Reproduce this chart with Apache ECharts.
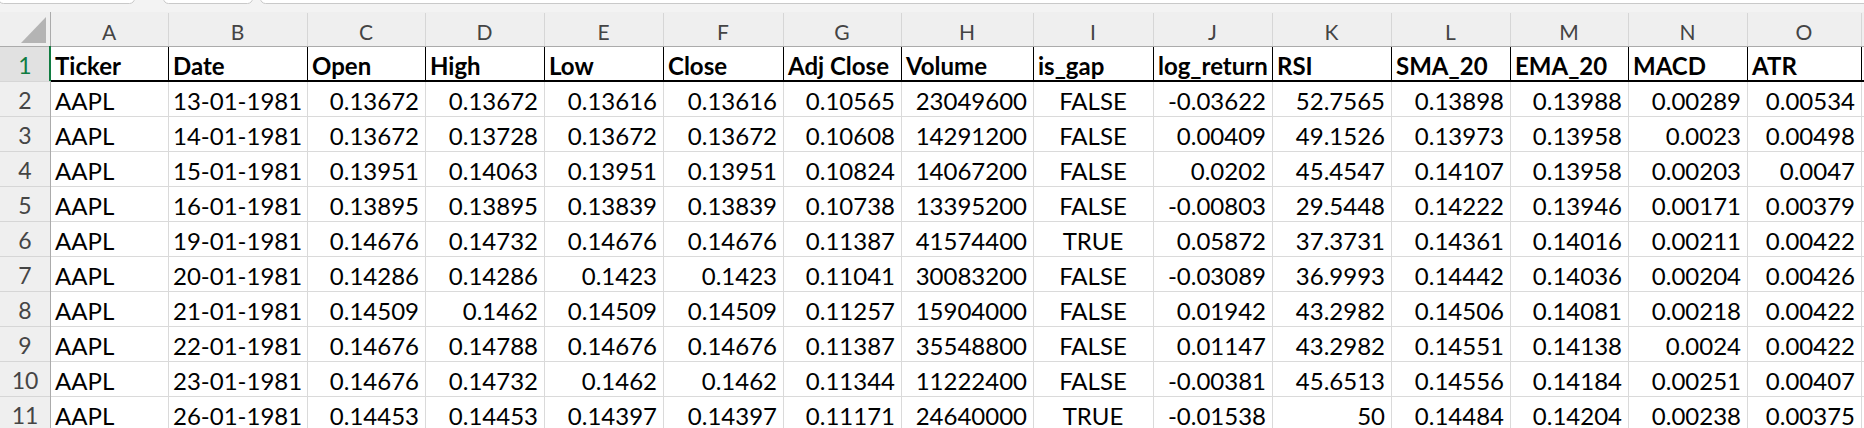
<!DOCTYPE html>
<html><head><meta charset="utf-8">
<script src="https://cdn.jsdelivr.net/npm/echarts@6/dist/echarts.min.js"></script>
<style>html,body{margin:0;padding:0;background:#fff;overflow:hidden}#c{width:1864px;height:428px}</style>
</head><body><div id="c"></div>
<script>
// ---------- data ----------
const columnLetters = ['A','B','C','D','E','F','G','H','I','J','K','L','M','N','O'];
const headers = ['Ticker','Date','Open','High','Low','Close','Adj Close','Volume','is_gap','log_return','RSI','SMA_20','EMA_20','MACD','ATR'];
const rowNumbers = [1,2,3,4,5,6,7,8,9,10,11];
const ticker = ['AAPL','AAPL','AAPL','AAPL','AAPL','AAPL','AAPL','AAPL','AAPL','AAPL'];
const date = ['13-01-1981','14-01-1981','15-01-1981','16-01-1981','19-01-1981','20-01-1981','21-01-1981','22-01-1981','23-01-1981','26-01-1981'];
const open = [0.13672,0.13672,0.13951,0.13895,0.14676,0.14286,0.14509,0.14676,0.14676,0.14453];
const high = [0.13672,0.13728,0.14063,0.13895,0.14732,0.14286,0.1462,0.14788,0.14732,0.14453];
const low = [0.13616,0.13672,0.13951,0.13839,0.14676,0.1423,0.14509,0.14676,0.1462,0.14397];
const close = [0.13616,0.13672,0.13951,0.13839,0.14676,0.1423,0.14509,0.14676,0.1462,0.14397];
const adjClose = [0.10565,0.10608,0.10824,0.10738,0.11387,0.11041,0.11257,0.11387,0.11344,0.11171];
const volume = [23049600,14291200,14067200,13395200,41574400,30083200,15904000,35548800,11222400,24640000];
const isGap = [false,false,false,false,true,false,false,false,false,true];
const logReturn = [-0.03622,0.00409,0.0202,-0.00803,0.05872,-0.03089,0.01942,0.01147,-0.00381,-0.01538];
const rsi = [52.7565,49.1526,45.4547,29.5448,37.3731,36.9993,43.2982,43.2982,45.6513,50];
const sma20 = [0.13898,0.13973,0.14107,0.14222,0.14361,0.14442,0.14506,0.14551,0.14556,0.14484];
const ema20 = [0.13988,0.13958,0.13958,0.13946,0.14016,0.14036,0.14081,0.14138,0.14184,0.14204];
const macd = [0.00289,0.0023,0.00203,0.00171,0.00211,0.00204,0.00218,0.0024,0.00251,0.00238];
const atr = [0.00534,0.00498,0.0047,0.00379,0.00422,0.00426,0.00422,0.00422,0.00407,0.00375];

// ---------- layout ----------
const W = 1864, H = 428;
const colEdges = [50,168,307,425,544,663,783,901,1033,1153,1272,1391,1510,1628,1747,1861];
const colAlign = ['left','left','right','right','right','right','right','right','center','right','right','right','right','right','right'];
const bandTop = 12, sheetTop = 46, rowH = 35, rowHeadW = 50;
const FONT = 'Lato';

const columns = [ticker,date,open,high,low,close,adjClose,volume,isGap,logReturn,rsi,sma20,ema20,macd,atr];
function fmt(v){ if (typeof v === 'boolean') return v ? 'TRUE' : 'FALSE'; return String(v); }
function cellText(r, c){ return r === 0 ? headers[c] : fmt(columns[c][r-1]); }

const cellData = [];
for (let r = 0; r < rowNumbers.length; r++) for (let c = 0; c < headers.length; c++) cellData.push([c, r]);

function P(api, x, y){ return api.coord([x, y]); }
function hline(api, x0, x1, y, color, w){ const a=P(api,x0,y), b=P(api,x1,y); const o=(w||1)%2?0.5:0; return {type:'line', shape:{x1:a[0],y1:Math.round(a[1])+o,x2:b[0],y2:Math.round(b[1])+o}, style:{stroke:color,lineWidth:w||1}}; }
function vline(api, x, y0, y1, color, w){ const a=P(api,x,y0), b=P(api,x,y1); const o=(w||1)%2?0.5:0; return {type:'line', shape:{x1:Math.round(a[0])+o,y1:a[1],x2:Math.round(b[0])+o,y2:b[1]}, style:{stroke:color,lineWidth:w||1}}; }

function renderChrome(params, api){
  const ch = [];
  const t = P(api,0,0), e = P(api,W,bandTop);
  ch.push({type:'rect', shape:{x:t[0],y:t[1],width:e[0]-t[0],height:e[1]-t[1]}, style:{fill:'#f3f3f3'}});
  [[-2,134],[163,252],[260,W+10]].forEach(([a,b])=>{
    const p=P(api,a,-12), q=P(api,b,3.5);
    ch.push({type:'rect', shape:{x:p[0]+0.5,y:p[1],width:q[0]-p[0],height:q[1]-p[1],r:5}, style:{fill:'#ffffff',stroke:'#c9c9c9',lineWidth:1}});
  });
  const b0 = P(api,0,bandTop), b1 = P(api,W,sheetTop);
  ch.push({type:'rect', shape:{x:b0[0],y:b0[1],width:b1[0]-b0[0],height:b1[1]-b0[1]}, style:{fill:'#efefef'}});
  const r0 = P(api,0,sheetTop), r1 = P(api,rowHeadW,H);
  ch.push({type:'rect', shape:{x:r0[0],y:r0[1],width:r1[0]-r0[0],height:r1[1]-r0[1]}, style:{fill:'#efefef'}});
  const s0 = P(api,0,sheetTop), s1 = P(api,rowHeadW,sheetTop+rowH);
  ch.push({type:'rect', shape:{x:s0[0],y:s0[1],width:s1[0]-s0[0],height:s1[1]-s0[1]}, style:{fill:'#e1e1e1'}});
  const a = P(api,21,43), b = P(api,46,43), c = P(api,46,17);
  ch.push({type:'polygon', shape:{points:[a,b,c]}, style:{fill:'#b4b4b4'}});
  return {type:'group', children:ch};
}

function renderCell(params, api){
  const c = api.value(0), r = api.value(1);
  const y0 = sheetTop + r*rowH;
  const p0 = P(api, colEdges[c], y0), p1 = P(api, colEdges[c+1], y0+rowH);
  const align = r === 0 ? 'left' : colAlign[c];
  const tx = align === 'left' ? p0[0]+5 : align === 'right' ? p1[0]-6 : (p0[0]+p1[0])/2;
  return {type:'group', children:[
    {type:'rect', shape:{x:p0[0]+1, y:p0[1]+1, width:p1[0]-p0[0]-1, height:p1[1]-p0[1]-1}, style:{fill:'#ffffff'}},
    {type:'text', x:tx, y:(p0[1]+p1[1])/2+1.5, style:{text:cellText(r,c), fill:'#000000', fontFamily:FONT, fontSize:24, fontWeight:r===0?'bold':'normal', align:align, verticalAlign:'middle'}}
  ]};
}

function renderLetter(params, api){
  const c = api.value(0);
  const p = P(api, (colEdges[c]+colEdges[c+1])/2, (bandTop+sheetTop)/2+2.5);
  return {type:'text', x:p[0], y:p[1], style:{text:columnLetters[c], fill:'#444444', fontFamily:FONT, fontSize:21, align:'center', verticalAlign:'middle'}};
}

function renderRowNum(params, api){
  const r = api.value(0);
  const p = P(api, rowHeadW/2, sheetTop + r*rowH + rowH/2 + 1.5);
  return {type:'text', x:p[0], y:p[1], style:{text:String(rowNumbers[r]), fill:r===0?'#107c41':'#454545', fontFamily:FONT, fontSize:23, align:'center', verticalAlign:'middle'}};
}

function renderGrid(params, api){
  const ch = [];
  const nRows = rowNumbers.length;
  // data horizontal lines
  for (let r = 2; r <= nRows; r++) ch.push(hline(api, rowHeadW, W, sheetTop + r*rowH, '#dadada', 1));
  // data vertical lines
  colEdges.forEach(x => ch.push(vline(api, x, sheetTop+rowH, H, '#dadada', 1)));
  // header row borders
  colEdges.forEach(x => ch.push(vline(api, x, sheetTop, sheetTop+rowH, '#000000', 1)));
  ch.push(hline(api, rowHeadW, W, sheetTop+rowH, '#000000', 2));
  // column header band
  colEdges.forEach(x => ch.push(vline(api, x, bandTop+1, sheetTop, '#d6d6d6', 1)));
  ch.push(hline(api, 0, W, sheetTop, '#ababab', 1));
  // row header
  for (let r = 1; r <= nRows; r++) ch.push(hline(api, 0, rowHeadW, sheetTop + r*rowH, '#d6d6d6', 1));
  ch.push(vline(api, rowHeadW, bandTop, H, '#ababab', 1));
  ch.push(vline(api, rowHeadW, sheetTop, sheetTop+rowH, '#107c41', 2));
  return {type:'group', children:ch};
}

const chart = echarts.init(document.getElementById('c'), null, {renderer:'svg', width:W, height:H});
chart.setOption({
  animation:false,
  backgroundColor:'#ffffff',
  grid:{left:0,right:0,top:0,bottom:0},
  xAxis:{type:'value', min:0, max:W, show:false},
  yAxis:{type:'value', min:0, max:H, inverse:true, show:false},
  series:[
    {type:'custom', name:'chrome', z:1, clip:false, data:[[0,0]], renderItem:renderChrome},
    {type:'custom', name:'cells', z:2, clip:false, data:cellData, renderItem:renderCell},
    {type:'custom', name:'grid', z:3, clip:false, data:[[0,0]], renderItem:renderGrid},
    {type:'custom', name:'columnLetters', z:4, clip:false, data:columnLetters.map((_, i) => [i, 0]), renderItem:renderLetter},
    {type:'custom', name:'rowNumbers', z:4, clip:false, data:rowNumbers.map((_, i) => [i, 0]), renderItem:renderRowNum}
  ]
});
</script>
</body></html>
